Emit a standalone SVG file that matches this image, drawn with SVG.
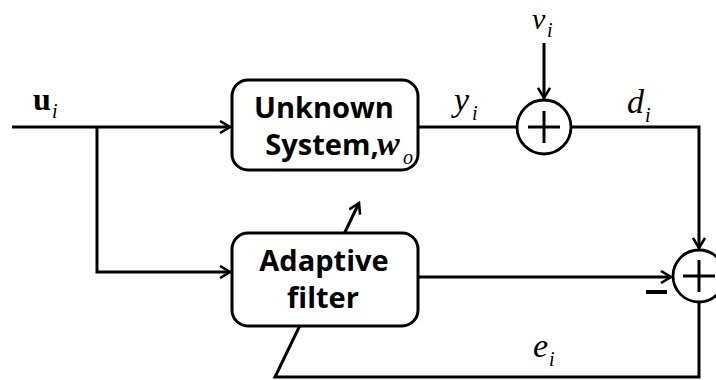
<svg xmlns="http://www.w3.org/2000/svg" width="716" height="380" viewBox="0 0 716 380">
<defs>
<marker id="arr" viewBox="0 0 14 14" refX="12" refY="7" markerWidth="14" markerHeight="14" markerUnits="userSpaceOnUse" orient="auto">
<polyline points="2,1 12,7 2,13" fill="none" stroke="#000" stroke-width="2.6"/>
</marker>
<style>
.ln{fill:none;stroke:#000;stroke-width:3}
.box{fill:#fff;stroke:#000;stroke-width:3}
.sum{fill:#fff;stroke:#000;stroke-width:2.8}
.bt{font-family:"Open Sans","Liberation Sans",sans-serif;font-weight:bold;font-size:29px;fill:#000;text-anchor:middle}
.m{font-family:"Liberation Serif",serif;font-style:italic;font-size:34px;fill:#000}
.s{font-family:"Liberation Serif",serif;font-style:italic;font-size:20px;fill:#000}
</style>
</defs>
<g id="connectors">
<polyline class="ln" points="12,127 230,127" marker-end="url(#arr)"/>
<polyline class="ln" points="97,127 97,272 230,272" marker-end="url(#arr)"/>
<line class="ln" x1="418" y1="127" x2="517" y2="127"/>
<line class="ln" x1="544" y1="43" x2="544" y2="98" marker-end="url(#arr)"/>
<polyline class="ln" points="571,127 699,127 699,248" marker-end="url(#arr)"/>
<line class="ln" x1="418" y1="277" x2="671" y2="277" marker-end="url(#arr)"/>
<polyline class="ln" points="699,302 699,377 275,377 359,203" marker-end="url(#arr)"/>
<line x1="646" y1="292" x2="667" y2="292" stroke="#000" stroke-width="4"/>
</g>
<g id="unknown">
<rect class="box" x="232" y="80" width="186" height="90" rx="16"/>
<text class="bt" x="324" y="118">Unknown</text>
<text class="bt" x="322" y="155">System,</text>
<text class="m" x="377" y="155" font-weight="bold">w</text>
<text class="s" x="403" y="164">o</text>
</g>
<g id="adaptive">
<rect class="box" x="232" y="233" width="186" height="93" rx="16"/>
<text class="bt" x="324" y="271">Adaptive</text>
<text class="bt" x="323" y="308">filter</text>
</g>
<g id="sum1">
<circle class="sum" cx="544" cy="127" r="27"/>
<line class="ln" x1="528" y1="127" x2="560" y2="127"/>
<line class="ln" x1="544" y1="111" x2="544" y2="143"/>
</g>
<g id="sum2">
<circle class="sum" cx="699" cy="276" r="26"/>
<line class="ln" x1="683" y1="276" x2="715" y2="276"/>
<line class="ln" x1="699" y1="260" x2="699" y2="292"/>
</g>
<g id="labels">
<text x="33" y="110" font-family="Liberation Serif,serif" font-weight="bold" font-size="32">u</text>
<text class="s" x="52" y="118">i</text>
<text x="532" y="29" font-family="Liberation Serif,serif" font-style="italic" font-size="30">v</text>
<text class="s" x="547" y="37">i</text>
<text class="m" x="454" y="111">y</text>
<text class="s" x="472" y="120">i</text>
<text class="m" x="627" y="113">d</text>
<text class="s" x="645" y="122">i</text>
<text class="m" x="533" y="357">e</text>
<text class="s" x="549" y="366">i</text>
</g>
</svg>
